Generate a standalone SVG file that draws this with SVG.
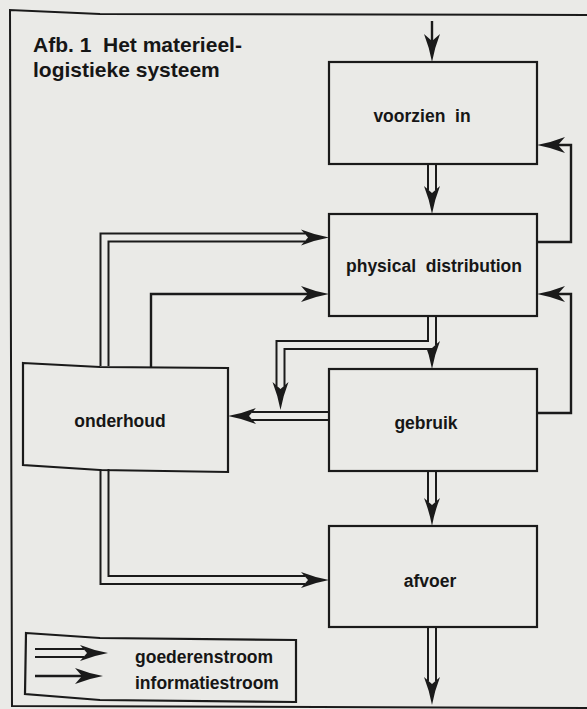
<svg xmlns="http://www.w3.org/2000/svg" width="587" height="709" viewBox="0 0 587 709">
  <style>
    .bg { fill: #eaeae7; }
    .frame { fill: none; stroke: #1a1a1a; stroke-width: 2; }
    .box { fill: none; stroke: #1a1a1a; stroke-width: 2.2; stroke-linejoin: miter; }
    .lbl { font-family: "Liberation Sans", Arial, sans-serif; font-weight: bold; font-size: 17.5px; fill: #161616; white-space: pre; }
    .title { font-family: "Liberation Sans", Arial, sans-serif; font-weight: bold; font-size: 21px; fill: #161616; white-space: pre; }
    .go { fill: none; stroke: #1a1a1a; stroke-width: 10; stroke-linejoin: miter; stroke-linecap: butt; }
    .gi { fill: none; stroke: #eaeae7; stroke-width: 6; stroke-linejoin: miter; stroke-linecap: butt; }
    .info { fill: none; stroke: #1a1a1a; stroke-width: 2.4; stroke-linejoin: miter; }
  </style>
  <defs>
    <marker id="ai" viewBox="-30 -10 32 20" refX="-21" refY="0" markerWidth="32" markerHeight="20" markerUnits="userSpaceOnUse" orient="auto">
      <path d="M-28,-8 Q-14,-2.5 0,0 Q-14,2.5 -28,8 L-21,0 Z" fill="#1a1a1a"/>
    </marker>
    <marker id="ag" viewBox="-30 -10 32 20" refX="-24" refY="0" markerWidth="32" markerHeight="20" markerUnits="userSpaceOnUse" orient="auto">
      <path d="M-28,-8 Q-14,-2.5 0,0 Q-14,2.5 -28,8 L-21,0 Z" fill="#1a1a1a"/>
    </marker>
  </defs>

  <rect class="bg" x="0" y="0" width="587" height="709"/>

  <g id="frame">
    <polyline class="frame" points="587,15 100,14 10,10 12,706 587,708"/>
  </g>

  <g id="title">
    <text class="title" x="33" y="52" xml:space="preserve">Afb. 1  Het materieel-</text>
    <text class="title" x="33" y="77">logistieke systeem</text>
  </g>

  <g id="connectors">
    <g id="goods-outer">
      <path class="go" d="M432,164 V190"/>
      <path class="go" d="M432,316 V345"/>
      <path class="go" d="M432,471 V502"/>
      <path class="go" d="M432,627 V681"/>
      <path class="go" d="M329,416 H252"/>
      <path class="go" d="M432,345 H280.5 V386"/>
      <path class="go" d="M104.5,366 V237.5 H305"/>
      <path class="go" d="M104.5,469 V580 H305"/>
    </g>
    <g id="goods-inner">
      <path class="gi" d="M432,163 V190" marker-end="url(#ag)"/>
      <path class="gi" d="M432,315 V345" marker-end="url(#ag)"/>
      <path class="gi" d="M432,470 V502" marker-end="url(#ag)"/>
      <path class="gi" d="M432,626 V681" marker-end="url(#ag)"/>
      <path class="gi" d="M330,416 H252" marker-end="url(#ag)"/>
      <path class="gi" d="M432,345 H280.5 V386" marker-end="url(#ag)"/>
      <path class="gi" d="M104.5,367 V237.5 H305" marker-end="url(#ag)"/>
      <path class="gi" d="M104.5,468 V580 H305" marker-end="url(#ag)"/>
    </g>
    <g id="info">
      <path class="info" d="M432,21 V41" marker-end="url(#ai)"/>
      <path class="info" d="M537,242 H571 V145 H558" marker-end="url(#ai)"/>
      <path class="info" d="M537,413 H571 V294 H558" marker-end="url(#ai)"/>
      <path class="info" d="M151,367 V294 H308" marker-end="url(#ai)"/>
    </g>
  </g>

  <g id="voorzien">
    <rect class="box" x="329" y="62" width="208" height="102"/>
    <text class="lbl" x="422" y="122" text-anchor="middle" xml:space="preserve">voorzien  in</text>
  </g>
  <g id="physical-distribution">
    <rect class="box" x="329" y="214" width="208" height="102"/>
    <text class="lbl" x="434" y="272" text-anchor="middle" xml:space="preserve">physical  distribution</text>
  </g>
  <g id="gebruik">
    <rect class="box" x="329" y="369" width="208" height="102"/>
    <text class="lbl" x="426" y="429" text-anchor="middle">gebruik</text>
  </g>
  <g id="afvoer">
    <rect class="box" x="329" y="526" width="208" height="101"/>
    <text class="lbl" x="430" y="587" text-anchor="middle">afvoer</text>
  </g>
  <g id="onderhoud">
    <path class="box" d="M23,363 L100,367 L228,368 L228,472 L100,470 L23,465 Z"/>
    <text class="lbl" x="120" y="427" text-anchor="middle">onderhoud</text>
  </g>

  <g id="legend">
    <path class="box" d="M26,633 L100,638 L296,640 L296,702 L100,700 L25,694 Z"/>
    <path class="go" d="M35,653 H84"/>
    <path class="gi" d="M34,653 H84" marker-end="url(#ag)"/>
    <path class="info" d="M35,676 H82" marker-end="url(#ai)"/>
    <text class="lbl" x="135" y="663">goederenstroom</text>
    <text class="lbl" x="135" y="689">informatiestroom</text>
  </g>
</svg>
